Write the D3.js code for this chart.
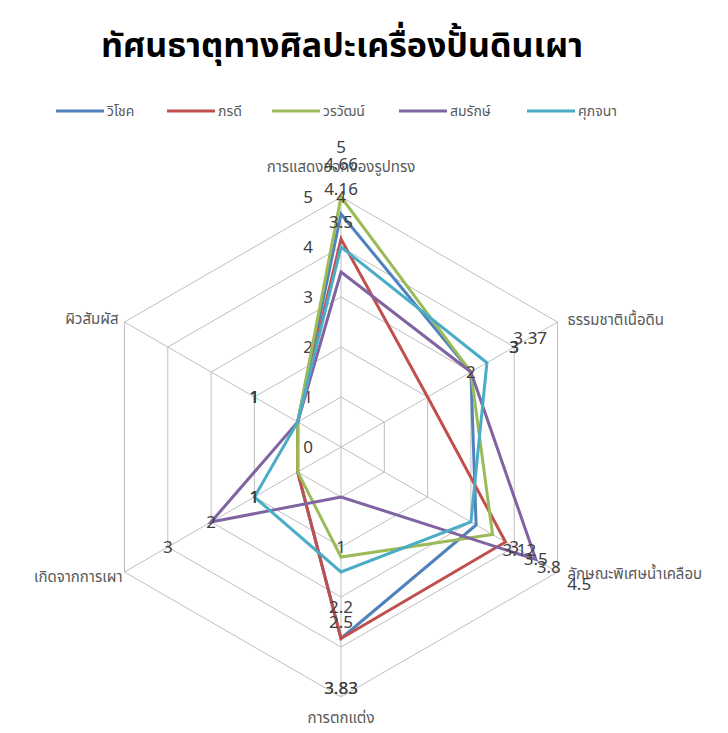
<!DOCTYPE html>
<html>
<head>
<meta charset="utf-8">
<script src="https://cdn.jsdelivr.net/npm/d3@7"></script>
<style>
  body { margin: 0; background: #fff; }
  text { font-family: Tahoma, "Noto Sans Thai", "Leelawadee UI", "DejaVu Sans", sans-serif; }
</style>
</head>
<body>
<svg width="728" height="733"></svg>
<script>
// axes clockwise from the top
let axes = ["การแสดงออกของรูปทรง", "ธรรมชาติเนื้อดิน", "ลักษณะพิเศษน้ำเคลือบ",
            "การตกแต่ง", "เกิดจากการเผา", "ผิวสัมผัส"];
let names = ["วิโชค", "ภรดี", "วรวัฒน์", "สมรักษ์", "ศุภจนา"];
let colors = ["#4F81BD", "#C0504D", "#9BBB59", "#8064A2", "#4BACC6"];

let vichok   = [4.66, 3,    3.12, 3.83, 1, 1];
let pharadee = [4.16, 2,    3.8,  3.83, 1, 1];
let worawat  = [5,    3,    3.5,  2.2,  1, 1];
let somrak   = [3.5,  3,    4.5,  1,    3, 1];
let supajana = [4,    3.37, 3,    2.5,  2, 1];
let series = [vichok, pharadee, worawat, somrak, supajana];

let ticks = [0, 1, 2, 3, 4, 5];

let svg = d3.select("svg");
let cx = 341, cy = 447;

let r = d3.scaleLinear().domain([0, 5]).range([0, 250]);
let angle = d3.scaleLinear().domain([0, axes.length]).range([-Math.PI / 2, Math.PI * 1.5]);

function pt(i, v) {
    return [cx + r(v) * Math.cos(angle(i)), cy + r(v) * Math.sin(angle(i))];
}

// title
svg.append("text")
    .attr("x", 342).attr("y", 57)
    .attr("text-anchor", "middle")
    .style("font-size", "34px")
    .style("font-weight", "bold")
    .style("fill", "#000")
    .text("ทัศนธาตุทางศิลปะเครื่องปั้นดินเผา");

// legend
let legendX = [56, 167, 272, 399, 527];
let legend = svg.append("g").selectAll("g")
    .data(names)
    .enter()
    .append("g")
    .attr("transform", (d, i) => "translate(" + legendX[i] + ",111)");
legend.append("line")
    .attr("x1", 0).attr("x2", 48)
    .style("stroke", (d, i) => colors[i])
    .style("stroke-width", 3);
legend.append("text")
    .attr("x", 51).attr("y", 5)
    .style("font-size", "14px")
    .style("fill", "#595959")
    .text(d => d);

// grid rings and spokes
let grid = svg.append("g");
ticks.slice(1).forEach(function (t) {
    grid.append("polygon")
        .attr("points", axes.map((a, i) => pt(i, t).join(",")).join(" "))
        .style("fill", "none")
        .style("stroke", "#BFBFBF")
        .style("stroke-width", 1);
});
grid.selectAll("line")
    .data(axes)
    .enter()
    .append("line")
    .attr("x1", cx).attr("y1", cy)
    .attr("x2", (d, i) => pt(i, 5)[0])
    .attr("y2", (d, i) => pt(i, 5)[1])
    .style("stroke", "#BFBFBF")
    .style("stroke-width", 1);

// tick labels on the first axis
svg.append("g").selectAll("text")
    .data(ticks)
    .enter()
    .append("text")
    .attr("x", cx - 33)
    .attr("y", d => cy - r(d))
    .attr("dy", "0.35em")
    .attr("text-anchor", "middle")
    .style("font-size", "17px")
    .style("fill", "#404040")
    .text(d => d);

// axis titles
let titlePos = [
    { dx: 0, dy: -30, anchor: "middle" },
    { dx: 10, dy: -2, anchor: "start" },
    { dx: 10, dy: 2, anchor: "start" },
    { dx: 0, dy: 21, anchor: "middle" },
    { dx: -2, dy: 5, anchor: "end" },
    { dx: -6, dy: -3, anchor: "end" }
];
svg.append("g").selectAll("text")
    .data(axes)
    .enter()
    .append("text")
    .attr("x", (d, i) => pt(i, 5)[0] + titlePos[i].dx)
    .attr("y", (d, i) => pt(i, 5)[1] + titlePos[i].dy)
    .attr("dy", "0.35em")
    .attr("text-anchor", (d, i) => titlePos[i].anchor)
    .style("font-size", "15px")
    .style("fill", "#595959")
    .text(d => d);

// series lines
let line = d3.line().curve(d3.curveLinearClosed);
svg.append("g").selectAll("path")
    .data(series)
    .enter()
    .append("path")
    .attr("d", d => line(d.map((v, i) => pt(i, v))))
    .style("fill", "none")
    .style("stroke", (d, i) => colors[i])
    .style("stroke-width", 3)
    .style("stroke-linejoin", "miter");

// data labels, sitting one ring outside each point
let labels = [];
series.forEach(function (s) {
    s.forEach(function (v, i) { labels.push({ axis: i, value: v }); });
});
svg.append("g").selectAll("text")
    .data(labels)
    .enter()
    .append("text")
    .attr("x", d => pt(d.axis, d.value + 1)[0])
    .attr("y", d => pt(d.axis, d.value + 1)[1])
    .attr("dy", "0.35em")
    .attr("text-anchor", "middle")
    .style("font-size", "17px")
    .style("fill", "#404040")
    .text(d => d.value);
</script>
</body>
</html>
